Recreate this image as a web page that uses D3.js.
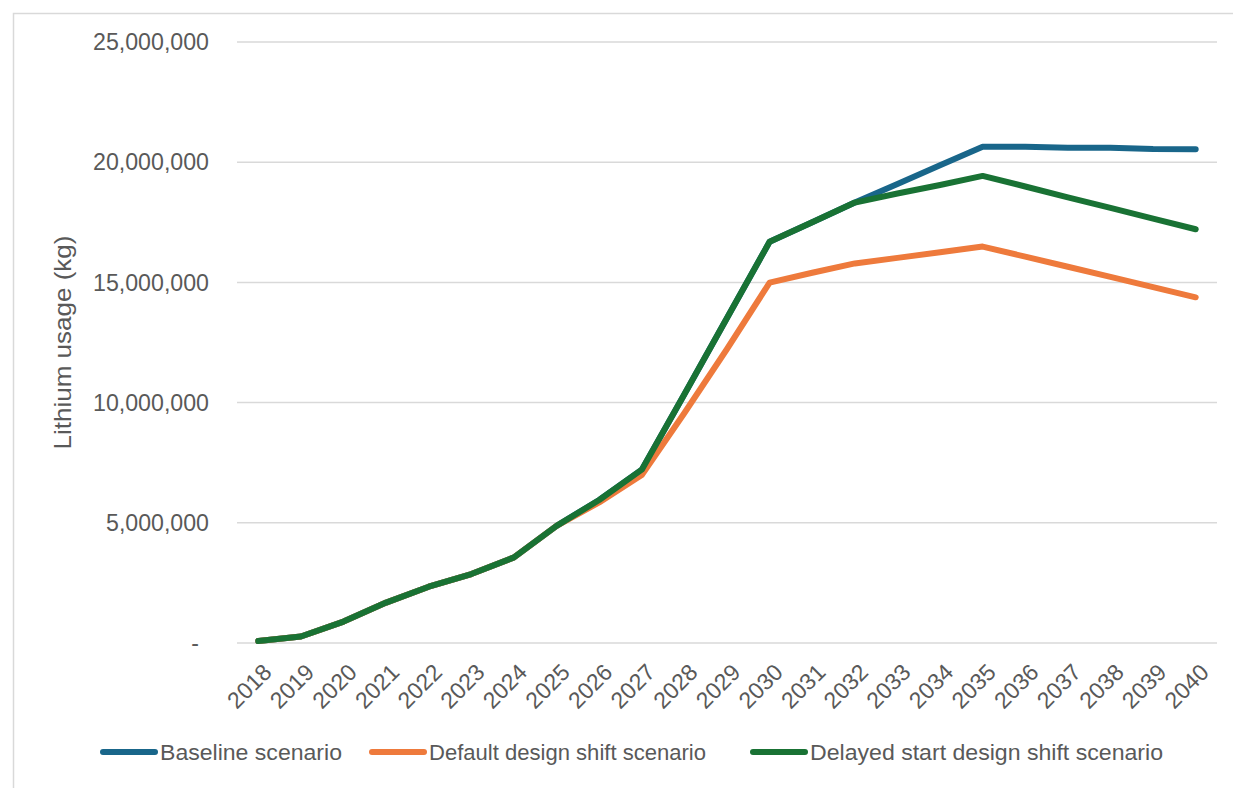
<!DOCTYPE html>
<html>
<head>
<meta charset="utf-8">
<script src="https://cdn.jsdelivr.net/npm/d3@7/dist/d3.min.js"></script>
<style>
  html, body { margin: 0; padding: 0; background: #fff; }
  svg { display: block; }
  text { font-family: "Liberation Sans", Arial, sans-serif; fill: #595959; }
</style>
</head>
<body>
<svg id="chart" width="1233" height="788"></svg>
<script>
const years = ["2018","2019","2020","2021","2022","2023","2024","2025","2026","2027","2028","2029","2030","2031","2032","2033","2034","2035","2036","2037","2038","2039","2040"];
const baseline = [80000, 270000, 890000, 1680000, 2340000, 2870000, 3560000, 4870000, 5950000, 7210000, 10350000, 13520000, 16690000, 17500000, 18320000, 19090000, 19870000, 20640000, 20640000, 20600000, 20600000, 20550000, 20540000];
const defaultShift = [80000, 270000, 890000, 1680000, 2340000, 2870000, 3560000, 4870000, 5850000, 6990000, 9570000, 12230000, 14990000, 15400000, 15790000, 16020000, 16250000, 16490000, 16070000, 15650000, 15230000, 14800000, 14380000];
const delayedShift = [80000, 270000, 890000, 1680000, 2340000, 2870000, 3560000, 4870000, 5950000, 7210000, 10350000, 13520000, 16690000, 17500000, 18320000, 18700000, 19050000, 19430000, 18990000, 18540000, 18100000, 17650000, 17210000];
const yTicks = [0, 5000000, 10000000, 15000000, 20000000, 25000000];
const seriesNames = ["Baseline scenario", "Default design shift scenario", "Delayed start design shift scenario"];
const seriesColors = ["#19668a", "#ee7a3c", "#197234"];

const svg = d3.select("#chart");

// outer frame
svg.append("rect").attr("x", 13.5).attr("y", 13.5).attr("width", 1240).attr("height", 800)
  .attr("fill", "none").attr("stroke", "#d9d9d9").attr("stroke-width", 1.5);

const x = d3.scaleBand().domain(years).range([237, 1217]).paddingInner(0).paddingOuter(0);
const y = d3.scaleLinear().domain([0, 25000000]).range([643, 42]);
const cx = d => x(d) + x.bandwidth() / 2;

// gridlines
svg.append("g").selectAll("line").data(yTicks).join("line")
  .attr("x1", 237).attr("x2", 1217)
  .attr("y1", d => y(d)).attr("y2", d => y(d))
  .attr("stroke", "#d9d9d9").attr("stroke-width", 1.5);

// y tick labels
const fmt = d3.format(",");
svg.append("g").selectAll("text").data(yTicks).join("text")
  .attr("x", d => d === 0 ? 199 : 209)
  .attr("y", d => y(d))
  .attr("dy", "0.36em")
  .attr("text-anchor", "end")
  .attr("font-size", 23)
  .attr("textLength", d => d === 0 ? null : (d >= 10000000 ? 116 : 103))
  .attr("lengthAdjust", "spacingAndGlyphs")
  .text(d => d === 0 ? "-" : fmt(d));

// y axis title
svg.append("text")
  .attr("transform", `translate(71, ${(y(0) + y(25000000)) / 2}) rotate(-90)`)
  .attr("text-anchor", "middle")
  .attr("font-size", 24)
  .attr("textLength", 214)
  .attr("lengthAdjust", "spacingAndGlyphs")
  .text("Lithium usage (kg)");

// x tick labels
svg.append("g").selectAll("text").data(years).join("text")
  .attr("transform", d => `translate(${cx(d) + 3}, 662) rotate(-45)`)
  .attr("text-anchor", "end")
  .attr("dy", "0.72em")
  .attr("font-size", 23)
  .text(d => d);

// lines
const allSeries = [baseline, defaultShift, delayedShift];
const line = d3.line().x((d, i) => cx(years[i])).y(d => y(d));
svg.append("g").selectAll("path").data(allSeries).join("path")
  .attr("d", d => line(d))
  .attr("fill", "none")
  .attr("stroke", (d, i) => seriesColors[i])
  .attr("stroke-width", 6)
  .attr("stroke-linejoin", "round")
  .attr("stroke-linecap", "round");

// legend
const legendX = [103, 372, 753];
const legendW = [182, 277, 353];
const lg = svg.append("g").selectAll("g").data(seriesNames).join("g");
lg.append("line")
  .attr("x1", (d, i) => legendX[i]).attr("x2", (d, i) => legendX[i] + 52)
  .attr("y1", 752).attr("y2", 752)
  .attr("stroke", (d, i) => seriesColors[i])
  .attr("stroke-width", 6)
  .attr("stroke-linecap", "round");
lg.append("text")
  .attr("x", (d, i) => legendX[i] + 57)
  .attr("y", 752)
  .attr("dy", "0.36em")
  .attr("font-size", 22)
  .attr("textLength", (d, i) => legendW[i])
  .attr("lengthAdjust", "spacingAndGlyphs")
  .text(d => d);
</script>
</body>
</html>
